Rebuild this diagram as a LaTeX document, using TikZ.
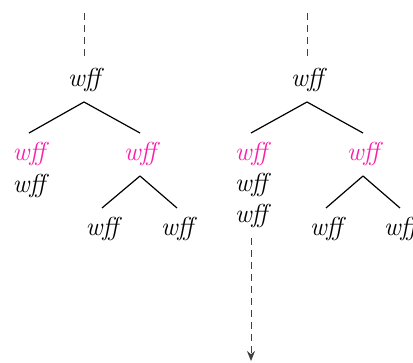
\documentclass[tikz,border=0pt]{standalone}
\usepackage{fontspec}
\usepackage{tikz}
\usetikzlibrary{arrows.meta,positioning}
\definecolor{hot}{RGB}{250,30,170}
\newcommand{\Wff}{\itshape wff}

\begin{document}
\begin{tikzpicture}[x=0.5pt, y=-0.5pt, >={Stealth[length=5pt,width=4pt]}, semithick]
	\tikzstyle{every node}=[anchor=base, inner xsep=0pt, inner ysep=5.5pt, outer sep=0pt,
		text height=8.5pt, text depth=2pt, font=\fontsize{13}{15}\selectfont]
	\tikzstyle{dots}=[dash pattern=on 3.5pt off 2.5pt, draw=black!75, line width=0.5pt]
	\useasboundingbox (0,0) rectangle (413,363);

	\begin{scope}
		% left tree
		\coordinate (t0) at (84,13);
		\node (0) at (84,87) {\Wff};
		\node[text=hot] (1) at (29,161) {\Wff};
		\node (1a) at (29,193) {\Wff};
		\node[text=hot] (2) at (140,161) {\Wff};
		\node (3) at (102,236) {\Wff};
		\node (4) at (177,236) {\Wff};

		\draw[dots] (t0) -- (0.north);
		\draw (0.south) -- (1.north); \draw (0.south) -- (2.north);
		\draw (2.south) -- (3.north); \draw (2.south) -- (4.north);
	\end{scope}

	\begin{scope}
		% right tree
		\coordinate (u0) at (307,13);
		\coordinate (u9) at (251,361);
		\node (5) at (307,87) {\Wff};
		\node[text=hot] (6) at (251,161) {\Wff};
		\node (6a) at (251,192) {\Wff};
		\node (6b) at (251,223) {\Wff};
		\node[text=hot] (7) at (363,161) {\Wff};
		\node (8) at (326,236) {\Wff};
		\node (9) at (400,236) {\Wff};

		\draw[dots] (u0) -- (5.north);
		\draw (5.south) -- (6.north); \draw (5.south) -- (7.north);
		\draw (7.south) -- (8.north); \draw (7.south) -- (9.north);
		\draw[dots, ->] (6b.south) -- (u9);
	\end{scope}
\end{tikzpicture}
\end{document}
